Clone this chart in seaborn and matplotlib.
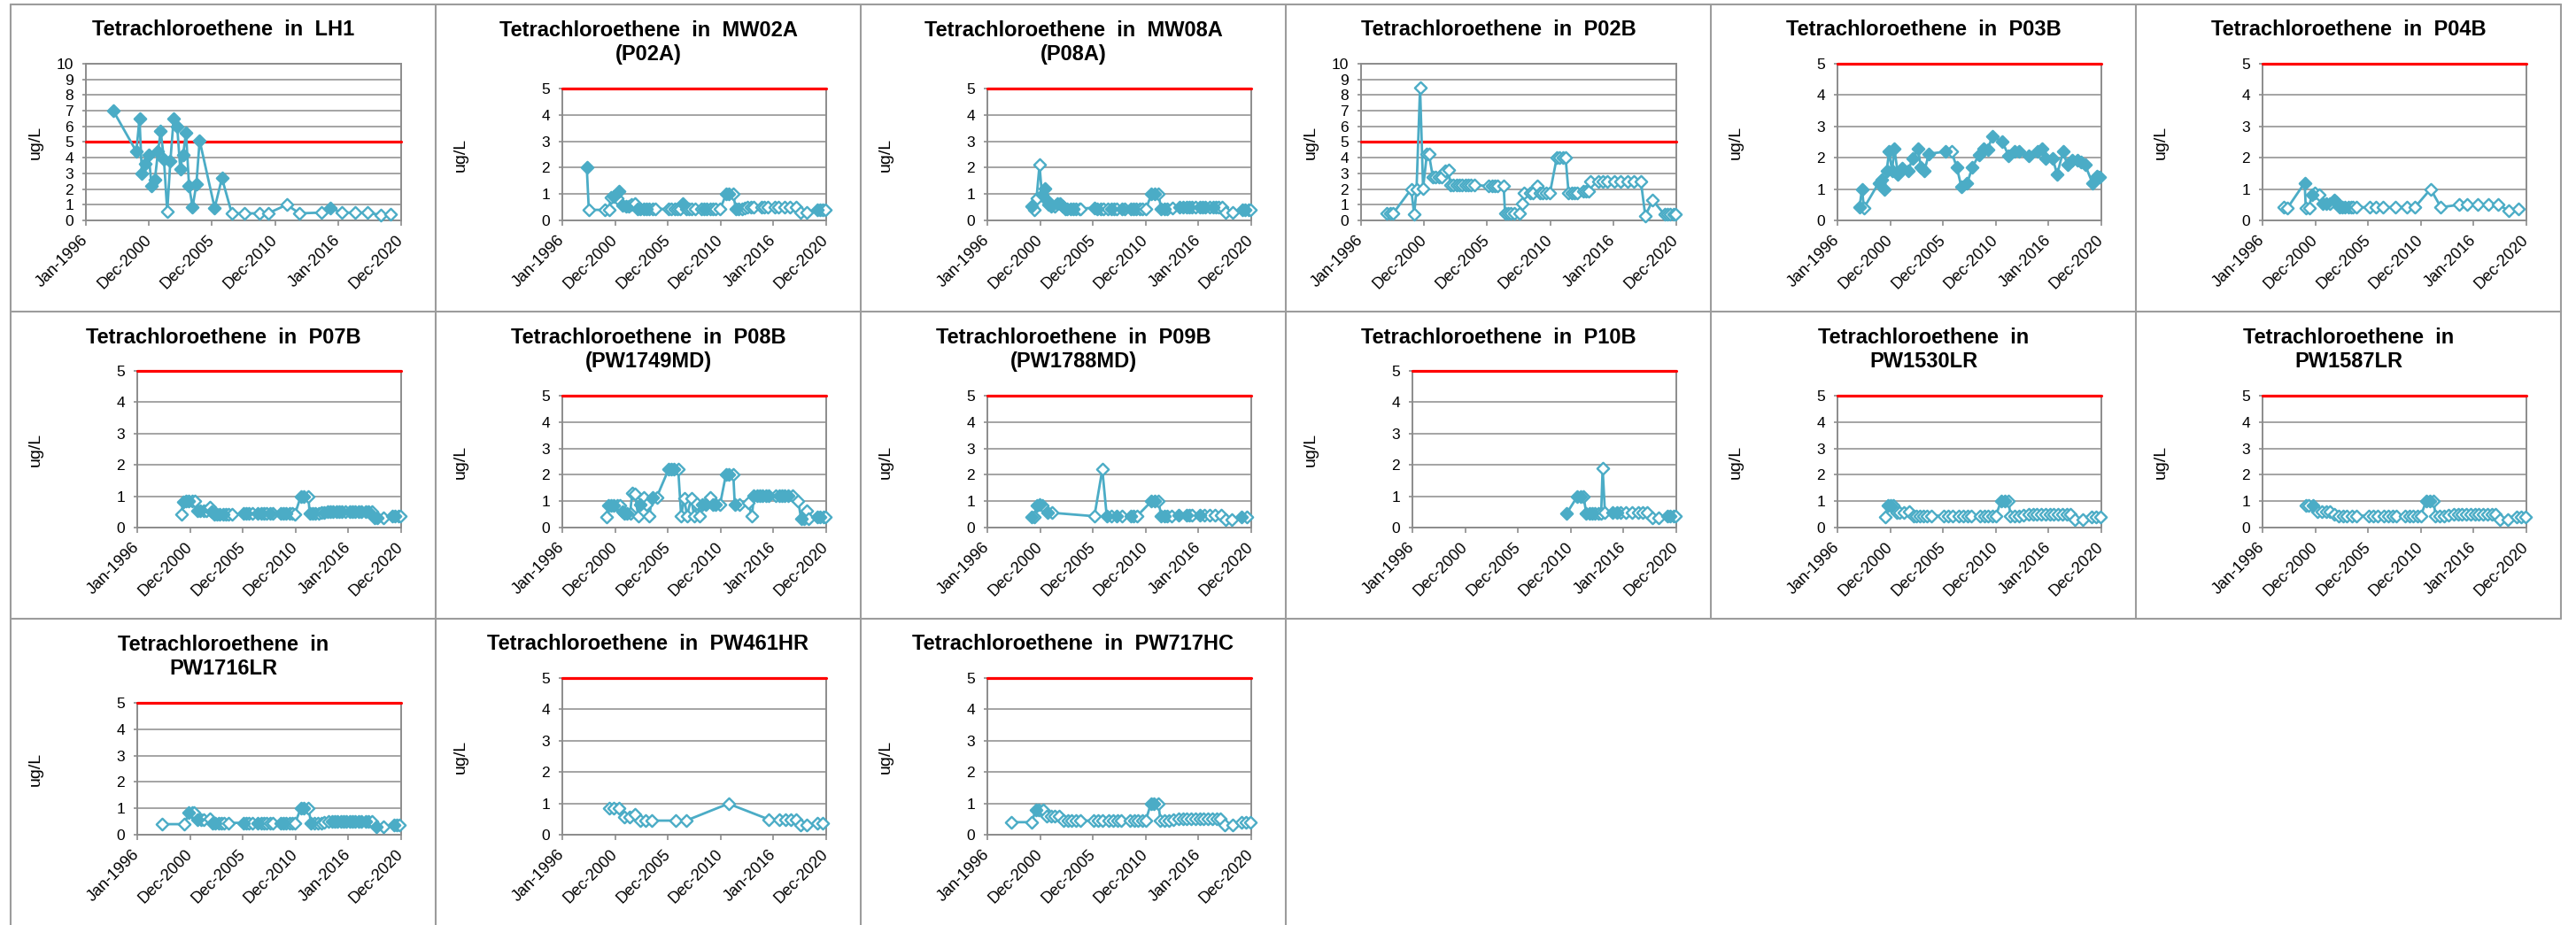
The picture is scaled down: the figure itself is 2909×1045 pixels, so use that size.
import matplotlib
matplotlib.use('Agg')
import matplotlib.pyplot as plt
import seaborn as sns
from matplotlib.lines import Line2D

# ---------------- data (decimal years, ug/L, 1 = detected / filled marker) ----------------

x_tick_years = [1996, 2001, 2006, 2011, 2016, 2021]
x_tick_labels = ['Jan-1996', 'Dec-2000', 'Dec-2005', 'Dec-2010', 'Jan-2016', 'Dec-2020']
mcl = 5

lh1_year = [1998.17, 2000.00, 2000.25, 2000.44, 2000.67, 2000.98, 2001.21, 2001.47, 2001.72, 2001.93,
            2002.19, 2002.45, 2002.70, 2002.96, 2003.24, 2003.48, 2003.71, 2003.94, 2004.18, 2004.46,
            2004.76, 2005.02, 2006.21, 2006.79, 2007.57, 2008.57, 2009.74, 2010.44, 2011.93, 2012.94,
            2014.69, 2015.39, 2016.33, 2017.38, 2018.31, 2019.36, 2020.18]
lh1_val = [7.0, 4.4, 6.5, 3.0, 3.6, 4.2, 2.2, 2.6, 4.4, 5.7,
           3.9, 0.56, 3.8, 6.5, 6.0, 3.3, 4.2, 5.6, 2.2, 0.85,
           2.3, 5.1, 0.8, 2.7, 0.45, 0.45, 0.45, 0.45, 1.0, 0.45,
           0.5, 0.8, 0.5, 0.5, 0.5, 0.35, 0.4]
lh1_det = [1, 1, 1, 1, 1, 1, 1, 1, 1, 1,
           1, 0, 1, 1, 1, 1, 1, 1, 1, 1,
           1, 1, 1, 1, 0, 0, 0, 0, 0, 0,
           0, 1, 0, 0, 0, 0, 0]

mw02a_year = [1998.32, 1998.51, 1999.99, 2000.41, 2000.60, 2000.89, 2001.17, 2001.39, 2001.67, 2002.00,
              2002.28, 2002.56, 2002.90, 2003.12, 2003.40, 2003.68, 2003.96, 2004.24, 2004.52, 2004.85,
              2006.06, 2006.34, 2006.62, 2006.90, 2007.17, 2007.45, 2007.73, 2008.01, 2008.29, 2008.57,
              2009.13, 2009.41, 2009.69, 2009.97, 2010.25, 2010.53, 2010.97, 2011.53, 2011.81, 2012.17,
              2012.45, 2012.73, 2013.01, 2013.29, 2013.57, 2013.85, 2014.13, 2014.85, 2015.13, 2015.46,
              2016.10, 2016.46, 2017.08, 2017.58, 2018.14, 2018.54, 2019.18, 2020.16, 2020.44, 2020.66,
              2020.94]
mw02a_val = [2.0, 0.4, 0.4, 0.4, 0.87, 0.9, 0.85, 1.1, 0.56, 0.53,
             0.53, 0.6, 0.65, 0.42, 0.45, 0.45, 0.45, 0.45, 0.45, 0.45,
             0.42, 0.45, 0.45, 0.45, 0.45, 0.65, 0.45, 0.45, 0.45, 0.45,
             0.45, 0.45, 0.45, 0.45, 0.45, 0.45, 0.45, 1.0, 1.0, 1.0,
             0.45, 0.45, 0.45, 0.48, 0.5, 0.5, 0.5, 0.5, 0.5, 0.5,
             0.5, 0.5, 0.5, 0.5, 0.5, 0.3, 0.3, 0.4, 0.4, 0.4,
             0.4]
mw02a_det = [1, 0, 0, 0, 0, 1, 0, 1, 1, 1,
             0, 0, 0, 1, 1, 1, 1, 0, 0, 0,
             0, 0, 0, 0, 0, 1, 0, 0, 0, 0,
             0, 1, 0, 0, 0, 0, 0, 1, 1, 0,
             1, 0, 0, 0, 0, 0, 0, 0, 0, 0,
             0, 0, 0, 0, 0, 0, 0, 1, 0, 0,
             0]

mw08a_year = [2000.19, 2000.47, 2000.66, 2000.94, 2001.17, 2001.45, 2001.59, 2001.78, 2002.00, 2002.34,
              2002.62, 2002.90, 2003.12, 2003.35, 2003.57, 2003.85, 2004.13, 2004.41, 2004.69, 2004.85,
              2006.14, 2006.42, 2006.70, 2006.98, 2007.45, 2007.73, 2008.01, 2008.29, 2008.77, 2008.99,
              2009.55, 2009.83, 2010.11, 2010.39, 2010.66, 2011.00, 2011.56, 2011.84, 2012.20, 2012.48,
              2012.76, 2013.04, 2013.51, 2014.24, 2014.52, 2014.85, 2015.13, 2015.41, 2015.69, 2016.11,
              2016.39, 2016.67, 2017.03, 2017.37, 2017.65, 2017.93, 2018.21, 2018.54, 2019.27, 2020.16,
              2020.44, 2020.72, 2020.94]
mw08a_val = [0.54, 0.4, 0.85, 2.1, 0.98, 1.2, 0.76, 0.6, 0.53, 0.53,
             0.65, 0.65, 0.53, 0.42, 0.45, 0.45, 0.45, 0.45, 0.45, 0.45,
             0.48, 0.45, 0.45, 0.45, 0.45, 0.45, 0.45, 0.45, 0.45, 0.45,
             0.45, 0.45, 0.45, 0.45, 0.45, 0.42, 1.0, 1.0, 1.0, 0.42,
             0.45, 0.45, 0.48, 0.5, 0.5, 0.5, 0.5, 0.5, 0.5, 0.5,
             0.5, 0.5, 0.5, 0.5, 0.5, 0.5, 0.5, 0.3, 0.3, 0.4,
             0.4, 0.4, 0.4]
mw08a_det = [1, 0, 0, 0, 1, 1, 1, 1, 1, 0,
             1, 1, 1, 1, 1, 1, 1, 0, 0, 0,
             1, 1, 0, 0, 0, 1, 0, 0, 1, 0,
             1, 1, 0, 0, 0, 0, 1, 1, 0, 1,
             1, 0, 0, 1, 1, 0, 1, 0, 0, 1,
             1, 1, 0, 1, 0, 0, 0, 0, 0, 1,
             1, 0, 0]

p02b_year = [1998.06, 1998.29, 1998.53, 1999.98, 2000.21, 2000.40, 2000.68, 2000.92, 2001.22, 2001.38,
             2001.69, 2001.92, 2002.16, 2002.39, 2002.69, 2002.93, 2003.09, 2003.33, 2003.56, 2003.80,
             2004.03, 2004.26, 2004.50, 2004.73, 2004.97, 2006.14, 2006.37, 2006.60, 2006.84, 2007.31,
             2007.42, 2007.66, 2007.89, 2008.13, 2008.55, 2008.78, 2008.95, 2009.41, 2009.65, 2009.95,
             2010.19, 2010.42, 2010.70, 2010.98, 2011.52, 2011.75, 2011.99, 2012.22, 2012.46, 2012.69,
             2012.92, 2013.16, 2013.63, 2013.86, 2014.02, 2014.21, 2014.80, 2015.15, 2015.50, 2016.08,
             2016.55, 2017.14, 2017.61, 2018.19, 2018.54, 2019.13, 2020.06, 2020.30, 2020.53, 2020.77,
             2020.95]
p02b_val = [0.43, 0.43, 0.43, 2.0, 0.38, 2.0, 8.5, 2.06, 4.24, 4.24,
            2.78, 2.78, 2.78, 2.78, 3.15, 3.2, 2.25, 2.25, 2.25, 2.25,
            2.25, 2.25, 2.25, 2.25, 2.25, 2.2, 2.2, 2.2, 2.2, 2.2,
            0.43, 0.43, 0.43, 0.43, 0.43, 1.1, 1.75, 1.75, 1.75, 2.2,
            1.75, 1.75, 1.75, 1.75, 4.0, 4.0, 4.0, 4.0, 1.75, 1.75,
            1.75, 1.75, 1.88, 1.88, 1.88, 2.5, 2.5, 2.5, 2.5, 2.5,
            2.5, 2.5, 2.5, 2.5, 0.3, 1.28, 0.38, 0.4, 0.4, 0.4,
            0.4]
p02b_det = [0] * len(p02b_year)

p03b_year = [1998.09, 1998.32, 1998.51, 1999.91, 2000.19, 2000.47, 2000.66, 2000.89, 2001.17, 2001.39,
             2001.73, 2002.15, 2002.70, 2003.12, 2003.63, 2003.90, 2004.24, 2004.66, 2006.20, 2006.81,
             2007.31, 2007.73, 2008.29, 2008.77, 2009.41, 2009.83, 2010.25, 2010.66, 2011.64, 2012.20,
             2012.76, 2013.18, 2014.16, 2014.99, 2015.36, 2015.75, 2016.39, 2016.81, 2017.37, 2017.79,
             2018.21, 2018.77, 2019.10, 2019.46, 2020.16, 2020.58, 2020.86]
p03b_val = [0.42, 1.0, 0.4, 1.2, 1.3, 0.99, 1.58, 2.19, 1.58, 2.29,
            1.46, 1.68, 1.58, 1.98, 2.29, 1.69, 1.58, 2.13, 2.19, 2.19,
            1.69, 1.08, 1.19, 1.69, 2.1, 2.29, 2.26, 2.69, 2.5, 2.07,
            2.19, 2.19, 2.07, 2.19, 2.29, 1.98, 1.98, 1.47, 2.19, 1.77,
            1.91, 1.91, 1.86, 1.77, 1.19, 1.41, 1.39]
p03b_det = [1, 1, 0, 1, 1, 1, 1, 1, 1, 1,
            1, 1, 1, 1, 1, 1, 1, 1, 1, 0,
            1, 1, 1, 1, 1, 1, 1, 1, 1, 1,
            1, 1, 1, 1, 1, 1, 1, 1, 1, 1,
            1, 1, 1, 1, 1, 1, 1]

p04b_year = [1998.04, 1998.37, 1999.99, 2000.10, 2000.41, 2000.66, 2000.94, 2001.39, 2001.67, 2002.00,
             2002.34, 2002.79, 2002.98, 2003.26, 2003.54, 2003.82, 2004.10, 2004.38, 2004.58, 2004.86,
             2006.14, 2006.75, 2007.45, 2008.57, 2009.69, 2010.44, 2011.92, 2012.90, 2014.63, 2015.41,
             2016.39, 2017.37, 2018.35, 2019.32, 2020.22]
p04b_val = [0.42, 0.4, 1.2, 0.4, 0.4, 0.83, 0.88, 0.83, 0.55, 0.55,
            0.55, 0.64, 0.6, 0.42, 0.42, 0.42, 0.42, 0.42, 0.42, 0.42,
            0.42, 0.42, 0.42, 0.42, 0.42, 0.42, 1.0, 0.42, 0.5, 0.5,
            0.5, 0.5, 0.5, 0.31, 0.38]
p04b_det = [0, 0, 1, 0, 0, 1, 0, 0, 1, 1,
            0, 1, 0, 1, 1, 1, 0, 0, 0, 0,
            0, 0, 0, 0, 0, 0, 0, 0, 0, 0,
            0, 0, 0, 0, 0]

p07b_year = [2000.19, 2000.33, 2000.61, 2000.89, 2001.17, 2001.45, 2001.67, 2001.95, 2002.28, 2002.56,
             2002.84, 2003.07, 2003.26, 2003.54, 2003.82, 2004.10, 2004.38, 2004.66, 2004.94, 2006.06,
             2006.34, 2006.61, 2006.89, 2007.45, 2007.73, 2008.01, 2008.29, 2008.57, 2008.85, 2009.55,
             2009.83, 2010.11, 2010.39, 2010.66, 2010.94, 2011.50, 2011.78, 2012.20, 2012.34, 2012.62,
             2012.90, 2013.18, 2013.46, 2013.74, 2014.02, 2014.30, 2014.58, 2014.85, 2015.13, 2015.41,
             2015.69, 2016.11, 2016.39, 2016.67, 2016.95, 2017.23, 2017.65, 2017.93, 2018.21, 2018.49,
             2018.77, 2019.32, 2020.16, 2020.44, 2020.72, 2020.94]
p07b_val = [0.41, 0.83, 0.85, 0.85, 0.85, 0.85, 0.55, 0.55, 0.55, 0.53,
            0.64, 0.5, 0.43, 0.43, 0.43, 0.43, 0.43, 0.43, 0.43, 0.45,
            0.45, 0.45, 0.45, 0.45, 0.45, 0.45, 0.45, 0.45, 0.45, 0.45,
            0.45, 0.45, 0.45, 0.45, 0.43, 1.0, 1.0, 1.0, 0.45, 0.45,
            0.45, 0.45, 0.48, 0.48, 0.5, 0.5, 0.5, 0.5, 0.5, 0.5,
            0.5, 0.5, 0.5, 0.5, 0.5, 0.5, 0.5, 0.5, 0.5, 0.3,
            0.3, 0.3, 0.38, 0.38, 0.38, 0.38]
p07b_det = [0, 1, 1, 1, 0, 0, 1, 1, 0, 0,
            0, 1, 1, 1, 1, 1, 0, 0, 0, 1,
            1, 0, 0, 1, 1, 0, 0, 1, 0, 1,
            1, 1, 0, 0, 0, 1, 1, 0, 1, 1,
            0, 0, 0, 1, 0, 1, 1, 1, 1, 1,
            0, 1, 1, 0, 1, 1, 1, 1, 0, 1,
            1, 0, 1, 1, 0, 0]

p08b_year = [2000.19, 2000.39, 2000.61, 2000.89, 2001.17, 2001.45, 2001.67, 2001.87, 2002.15, 2002.42,
             2002.62, 2002.90, 2003.18, 2003.40, 2003.68, 2003.74, 2003.96, 2004.24, 2004.52, 2004.94,
             2006.06, 2006.34, 2006.61, 2006.98, 2007.26, 2007.54, 2007.82, 2008.21, 2008.49, 2008.77,
             2008.99, 2009.27, 2009.55, 2009.97, 2010.25, 2010.53, 2010.94, 2011.50, 2011.78, 2012.20,
             2012.34, 2012.76, 2013.60, 2013.96, 2014.16, 2014.44, 2014.72, 2014.99, 2015.27, 2015.55,
             2016.25, 2016.53, 2016.81, 2017.09, 2017.37, 2017.79, 2018.35, 2018.63, 2018.90, 2019.19,
             2019.32, 2020.16, 2020.44, 2020.72, 2020.94]
p08b_val = [0.39, 0.85, 0.85, 0.85, 0.85, 0.85, 0.6, 0.54, 0.54, 0.54,
            1.3, 1.27, 0.45, 0.87, 1.15, 0.63, 0.87, 0.45, 1.15, 1.15,
            2.2, 2.2, 2.2, 2.2, 0.45, 1.1, 0.45, 1.1, 0.45, 0.9,
            0.45, 0.87, 0.87, 1.15, 0.87, 0.87, 0.87, 2.0, 2.0, 2.0,
            0.87, 0.87, 0.93, 0.45, 1.2, 1.2, 1.2, 1.2, 1.2, 1.2,
            1.2, 1.2, 1.2, 1.2, 1.2, 1.2, 1.0, 0.32, 0.32, 0.65,
            0.32, 0.39, 0.39, 0.39, 0.39]
p08b_det = [0, 1, 1, 1, 0, 0, 1, 1, 1, 0,
            0, 0, 0, 1, 0, 0, 0, 0, 1, 0,
            1, 1, 1, 0, 0, 0, 0, 0, 0, 0,
            0, 1, 1, 0, 1, 1, 0, 1, 1, 0,
            1, 0, 0, 0, 1, 1, 1, 1, 1, 1,
            0, 1, 1, 1, 1, 0, 0, 1, 0, 0,
            0, 1, 1, 0, 0]

p09b_year = [2000.19, 2000.47, 2000.66, 2000.94, 2001.22, 2001.73, 2002.15, 2006.14, 2006.89, 2007.31,
             2007.73, 2008.29, 2008.71, 2009.55, 2009.83, 2010.16, 2011.56, 2011.84, 2012.20, 2012.48,
             2012.76, 2013.04, 2013.46, 2014.16, 2014.85, 2015.13, 2015.41, 2016.11, 2016.53, 2017.09,
             2017.59, 2018.15, 2018.54, 2019.18, 2020.10, 2020.58]
p09b_val = [0.39, 0.39, 0.85, 0.87, 0.85, 0.56, 0.56, 0.43, 2.2, 0.43,
            0.43, 0.43, 0.43, 0.43, 0.43, 0.43, 1.0, 1.0, 1.0, 0.43,
            0.45, 0.45, 0.45, 0.48, 0.48, 0.48, 0.48, 0.48, 0.48, 0.48,
            0.48, 0.48, 0.31, 0.31, 0.39, 0.39]
p09b_det = [1, 0, 1, 1, 0, 1, 0, 0, 0, 1,
            0, 1, 0, 1, 0, 0, 1, 1, 0, 1,
            1, 0, 0, 1, 1, 0, 0, 1, 0, 0,
            0, 0, 0, 0, 1, 0]

p10b_year = [2010.61, 2011.64, 2011.92, 2012.20, 2012.48, 2012.76, 2013.04, 2013.32, 2013.60, 2013.88,
             2014.02, 2014.24, 2014.99, 2015.36, 2015.69, 2016.25, 2016.81, 2017.37, 2017.79, 2018.21,
             2018.77, 2019.32, 2020.16, 2020.44, 2020.72, 2020.94]
p10b_val = [0.45, 1.0, 1.0, 1.0, 0.45, 0.45, 0.45, 0.45, 0.45, 0.45,
            1.9, 0.48, 0.48, 0.48, 0.48, 0.48, 0.48, 0.48, 0.48, 0.48,
            0.31, 0.31, 0.38, 0.38, 0.38, 0.38]
p10b_det = [1, 1, 1, 0, 1, 1, 1, 0, 0, 0,
            0, 0, 1, 1, 0, 0, 0, 0, 0, 0,
            0, 0, 1, 1, 0, 0]

pw1530lr_year = [2000.50, 2000.75, 2001.00, 2001.30, 2001.60, 2001.90, 2002.30, 2002.80, 2003.20, 2003.50,
                 2003.80, 2004.10, 2004.50, 2004.90, 2006.10, 2006.50, 2006.90, 2007.50, 2007.90, 2008.30,
                 2008.70, 2009.50, 2009.90, 2010.30, 2010.70, 2011.00, 2011.50, 2011.85, 2012.20, 2012.40,
                 2012.80, 2013.20, 2013.60, 2014.10, 2014.50, 2014.90, 2015.30, 2015.70, 2016.10, 2016.50,
                 2016.90, 2017.30, 2017.70, 2018.10, 2018.50, 2019.20, 2020.10, 2020.50, 2020.90]
pw1530lr_val = [0.4, 0.85, 0.85, 0.85, 0.58, 0.58, 0.58, 0.62, 0.45, 0.45,
                0.45, 0.45, 0.45, 0.45, 0.45, 0.45, 0.45, 0.45, 0.45, 0.45,
                0.45, 0.45, 0.45, 0.45, 0.45, 0.45, 1.0, 1.0, 1.0, 0.45,
                0.45, 0.45, 0.48, 0.5, 0.5, 0.5, 0.5, 0.5, 0.5, 0.5,
                0.5, 0.5, 0.5, 0.5, 0.3, 0.3, 0.4, 0.4, 0.4]
pw1530lr_det = [0, 1, 1, 0, 0, 0, 0, 0, 0, 0,
                0, 0, 0, 0, 0, 0, 0, 0, 0, 0,
                0, 0, 0, 0, 0, 0, 1, 1, 0, 0,
                0, 0, 0, 0, 0, 0, 0, 0, 0, 0,
                0, 0, 0, 0, 0, 0, 0, 0, 0]

pw1587lr_year = [2000.10, 2000.40, 2000.80, 2001.20, 2001.60, 2002.00, 2002.40, 2002.80, 2003.20, 2003.60,
                 2004.00, 2004.50, 2004.90, 2006.10, 2006.50, 2006.90, 2007.50, 2007.90, 2008.30, 2008.70,
                 2009.50, 2009.90, 2010.30, 2010.70, 2011.00, 2011.50, 2011.85, 2012.20, 2012.40, 2012.80,
                 2013.20, 2013.60, 2014.10, 2014.50, 2014.90, 2015.30, 2015.70, 2016.10, 2016.50, 2016.90,
                 2017.30, 2017.70, 2018.10, 2018.50, 2019.20, 2020.10, 2020.50, 2020.90]
pw1587lr_val = [0.85, 0.85, 0.85, 0.6, 0.6, 0.6, 0.6, 0.5, 0.45, 0.45,
                0.45, 0.45, 0.45, 0.45, 0.45, 0.45, 0.45, 0.45, 0.45, 0.45,
                0.45, 0.45, 0.45, 0.45, 0.45, 1.0, 1.0, 1.0, 0.45, 0.45,
                0.45, 0.48, 0.5, 0.5, 0.5, 0.5, 0.5, 0.5, 0.5, 0.5,
                0.5, 0.5, 0.5, 0.3, 0.3, 0.4, 0.4, 0.4]
pw1587lr_det = [0, 0, 1, 0, 0, 0, 0, 0, 0, 0,
                0, 0, 0, 0, 0, 0, 0, 0, 0, 0,
                0, 0, 0, 0, 0, 1, 1, 0, 0, 0,
                0, 0, 0, 0, 0, 0, 0, 0, 0, 0,
                0, 0, 0, 0, 0, 0, 0, 0]

pw1716lr_year = [1998.32, 2000.47, 2000.89, 2001.17, 2001.39, 2001.67, 2002.00, 2002.28, 2002.84, 2003.12,
                 2003.40, 2003.68, 2003.96, 2004.24, 2004.66, 2006.06, 2006.34, 2006.61, 2006.89, 2007.45,
                 2007.73, 2008.01, 2008.29, 2008.57, 2008.85, 2009.55, 2009.83, 2010.11, 2010.39, 2010.66,
                 2010.94, 2011.50, 2011.78, 2012.20, 2012.48, 2012.76, 2013.12, 2013.46, 2013.74, 2014.16,
                 2014.44, 2014.72, 2014.99, 2015.27, 2015.55, 2015.83, 2016.11, 2016.39, 2016.67, 2016.95,
                 2017.23, 2017.65, 2017.93, 2018.21, 2018.63, 2019.32, 2020.30, 2020.58, 2020.86]
pw1716lr_val = [0.4, 0.4, 0.84, 0.84, 0.84, 0.56, 0.56, 0.56, 0.61, 0.45,
                0.45, 0.45, 0.45, 0.45, 0.45, 0.45, 0.45, 0.45, 0.45, 0.45,
                0.45, 0.45, 0.45, 0.45, 0.45, 0.45, 0.45, 0.45, 0.45, 0.45,
                0.43, 1.0, 1.0, 1.0, 0.45, 0.45, 0.45, 0.45, 0.48, 0.5,
                0.5, 0.5, 0.5, 0.5, 0.5, 0.5, 0.5, 0.5, 0.5, 0.5,
                0.5, 0.5, 0.5, 0.5, 0.3, 0.3, 0.38, 0.38, 0.38]
pw1716lr_det = [0, 0, 1, 0, 0, 1, 0, 0, 0, 1,
                1, 0, 0, 0, 0, 1, 0, 0, 0, 1,
                0, 0, 0, 0, 0, 1, 1, 0, 0, 0,
                0, 1, 1, 0, 1, 0, 0, 0, 0, 0,
                1, 1, 1, 0, 1, 0, 1, 1, 0, 1,
                1, 1, 0, 0, 1, 0, 1, 0, 0]

pw461hr_year = [2000.41, 2000.89, 2001.39, 2001.87, 2002.34, 2002.90, 2003.35, 2003.91, 2004.46, 2006.75,
                2007.73, 2011.73, 2015.55, 2016.53, 2017.15, 2017.65, 2018.15, 2018.54, 2019.18, 2020.16,
                2020.66]
pw461hr_val = [0.85, 0.85, 0.85, 0.57, 0.57, 0.64, 0.45, 0.45, 0.45, 0.45,
               0.45, 0.99, 0.49, 0.49, 0.49, 0.49, 0.49, 0.3, 0.3, 0.38,
               0.38]
pw461hr_det = [0] * len(pw461hr_year)

pw717hc_year = [1998.30, 2000.20, 2000.60, 2000.90, 2001.30, 2001.60, 2002.00, 2002.40, 2002.80, 2003.20,
                2003.60, 2004.00, 2004.40, 2004.80, 2006.10, 2006.50, 2006.90, 2007.50, 2007.90, 2008.30,
                2008.70, 2009.50, 2009.90, 2010.30, 2010.70, 2011.00, 2011.50, 2011.80, 2012.20, 2012.40,
                2012.80, 2013.20, 2013.60, 2014.10, 2014.50, 2014.90, 2015.30, 2015.70, 2016.10, 2016.50,
                2016.90, 2017.30, 2017.70, 2018.10, 2018.50, 2019.20, 2020.10, 2020.50, 2020.90]
pw717hc_val = [0.4, 0.4, 0.8, 0.8, 0.8, 0.58, 0.58, 0.58, 0.6, 0.45,
               0.45, 0.45, 0.45, 0.45, 0.45, 0.45, 0.45, 0.45, 0.45, 0.45,
               0.45, 0.45, 0.45, 0.45, 0.45, 0.45, 1.0, 1.0, 1.0, 0.45,
               0.45, 0.45, 0.48, 0.5, 0.5, 0.5, 0.5, 0.5, 0.5, 0.5,
               0.5, 0.5, 0.5, 0.5, 0.3, 0.3, 0.4, 0.4, 0.4]
pw717hc_det = [0, 0, 1, 0, 0, 0, 0, 0, 0, 0,
               0, 0, 0, 0, 0, 0, 0, 0, 0, 0,
               0, 0, 0, 0, 0, 0, 1, 1, 0, 0,
               0, 0, 0, 0, 0, 0, 0, 0, 0, 0,
               0, 0, 0, 0, 0, 0, 0, 0, 0]

# title, years, values, detect flags, y max  (row by row, 6 per row)
panels = [
    ('Tetrachloroethene  in  LH1', lh1_year, lh1_val, lh1_det, 10),
    ('Tetrachloroethene  in  MW02A\n(P02A)', mw02a_year, mw02a_val, mw02a_det, 5),
    ('Tetrachloroethene  in  MW08A\n(P08A)', mw08a_year, mw08a_val, mw08a_det, 5),
    ('Tetrachloroethene  in  P02B', p02b_year, p02b_val, p02b_det, 10),
    ('Tetrachloroethene  in  P03B', p03b_year, p03b_val, p03b_det, 5),
    ('Tetrachloroethene  in  P04B', p04b_year, p04b_val, p04b_det, 5),
    ('Tetrachloroethene  in  P07B', p07b_year, p07b_val, p07b_det, 5),
    ('Tetrachloroethene  in  P08B\n(PW1749MD)', p08b_year, p08b_val, p08b_det, 5),
    ('Tetrachloroethene  in  P09B\n(PW1788MD)', p09b_year, p09b_val, p09b_det, 5),
    ('Tetrachloroethene  in  P10B', p10b_year, p10b_val, p10b_det, 5),
    ('Tetrachloroethene  in\nPW1530LR', pw1530lr_year, pw1530lr_val, pw1530lr_det, 5),
    ('Tetrachloroethene  in\nPW1587LR', pw1587lr_year, pw1587lr_val, pw1587lr_det, 5),
    ('Tetrachloroethene  in\nPW1716LR', pw1716lr_year, pw1716lr_val, pw1716lr_det, 5),
    ('Tetrachloroethene  in  PW461HR', pw461hr_year, pw461hr_val, pw461hr_det, 5),
    ('Tetrachloroethene  in  PW717HC', pw717hc_year, pw717hc_val, pw717hc_det, 5),
]

# ---------------- style ----------------
sns.set_style('white')
plt.rcParams['font.family'] = ['Liberation Sans', 'DejaVu Sans']

BLUE = '#4bacc6'
RED = '#ff0000'
GRID = '#8c8c8c'
BORDER = '#9c9c9c'

W, H = 2909, 1045
fig = plt.figure(figsize=(W / 100, H / 100), dpi=100)
fig.patch.set_facecolor('white')

X0, Y0, CW, RH = 12, 5, 480, 347


def fig_box(left, top, right, bottom):
    return [left / W, 1 - bottom / H, (right - left) / W, (bottom - top) / H]


def draw_panel(ax, year, val, det, ymax):
    sns.lineplot(x=year, y=val, ax=ax, color=BLUE, lw=2.0, estimator=None,
                 sort=False, zorder=4)
    fy = [y for y, d in zip(year, det) if d]
    fv = [v for v, d in zip(val, det) if d]
    oy = [y for y, d in zip(year, det) if not d]
    ov = [v for v, d in zip(val, det) if not d]
    sns.scatterplot(x=oy, y=ov, ax=ax, marker='D', s=46, color='white',
                    edgecolor=BLUE, linewidth=1.7, zorder=5, clip_on=False)
    sns.scatterplot(x=fy, y=fv, ax=ax, marker='D', s=46, color=BLUE,
                    edgecolor=BLUE, linewidth=1.7, zorder=6, clip_on=False)
    ax.axhline(mcl, color=RED, lw=2.3, zorder=3, clip_on=False)

    ax.set_xlim(x_tick_years[0], x_tick_years[-1])
    ax.set_ylim(0, ymax)
    ax.set_yticks(range(0, ymax + 1))
    ax.set_xticks(x_tick_years)
    ax.set_xticklabels(x_tick_labels, rotation=45, ha='right', va='center',
                       rotation_mode='anchor', fontsize=13)
    ax.tick_params(axis='y', labelsize=12.5, length=3, width=1.2, color=GRID,
                   pad=7, left=True, labelcolor='black')
    ax.tick_params(axis='x', length=4, width=1.2, color=GRID, pad=10,
                   bottom=True, labelcolor='black')
    ax.yaxis.grid(True, color=GRID, lw=1.1, zorder=1)
    ax.xaxis.grid(False)
    for side in ['left', 'bottom', 'right', 'top']:
        ax.spines[side].set_visible(True)
        ax.spines[side].set_color(GRID)
        ax.spines[side].set_linewidth(1.4)
    ax.set_xlabel('')


for i, (title, year, val, det, ymax) in enumerate(panels):
    r, c = divmod(i, 6)
    pl = X0 + CW * c
    pt = Y0 + RH * r
    two_lines = '\n' in title
    left = pl + (85 if ymax == 10 else 143)
    right = pl + 441
    top = pt + (95 if two_lines else 67)
    bottom = pt + 244

    ax = fig.add_axes(fig_box(left, top, right, bottom))
    draw_panel(ax, year, val, det, ymax)
    ax.set_ylabel('ug/L', fontsize=14, color='black')
    ax.yaxis.set_label_coords((pl + 37 - left) / (right - left), 0.5)

    ty = pt + (43 if two_lines else 29)
    fig.text((pl + CW / 2) / W, 1 - ty / H, title, ha='center', va='center',
             fontsize=17, fontweight='bold', linespacing=1.27, color='black')

# table borders between the chart cells
def hline(y, x1, x2):
    fig.add_artist(Line2D([x1 / W, x2 / W], [1 - y / H, 1 - y / H], color=BORDER, lw=1.5))


def vline(x, y1, y2):
    fig.add_artist(Line2D([x / W, x / W], [1 - y1 / H, 1 - y2 / H], color=BORDER, lw=1.5))


for k in range(3):
    hline(Y0 + RH * k, X0, X0 + CW * 6)
for k in range(7):
    vline(X0 + CW * k, Y0, Y0 + RH * 2)
for k in range(4):
    vline(X0 + CW * k, Y0 + RH * 2, H)

fig.savefig('out.png', dpi=100, facecolor='white')
